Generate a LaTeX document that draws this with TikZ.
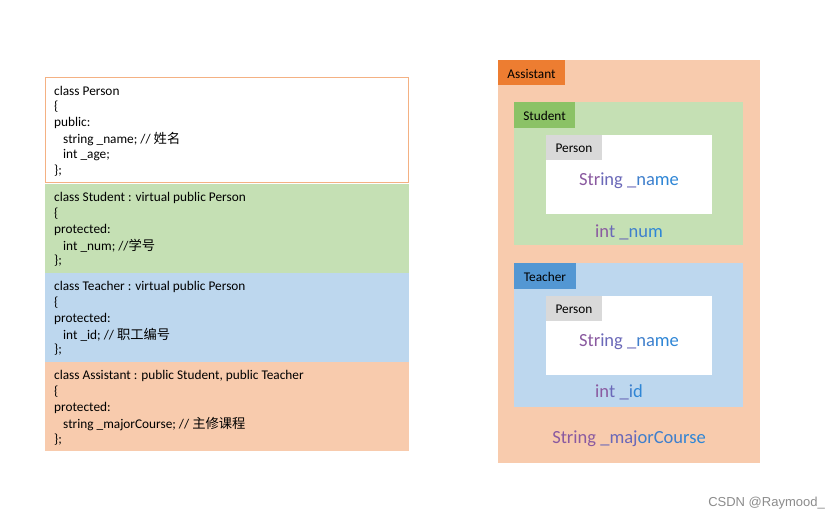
\documentclass[tikz,border=0pt]{standalone}
\usepackage{fontspec}
\setmainfont{Carlito}
\newfontfamily\cjk{Noto Sans CJK SC}
\newfontfamily\wmfont{Liberation Sans}
\definecolor{pOrange}{HTML}{F8CBAD}
\definecolor{pOrangeLine}{HTML}{F4B183}
\definecolor{pGreen}{HTML}{C5E0B4}
\definecolor{pBlue}{HTML}{BDD7EE}
\definecolor{lOrange}{HTML}{ED7D31}
\definecolor{lGreen}{HTML}{8BC266}
\definecolor{lBlue}{HTML}{5397D3}
\definecolor{lGray}{HTML}{D9D9D9}
\definecolor{gA}{HTML}{8A5AA0}
\definecolor{gB}{HTML}{6A68B8}
\definecolor{gC}{HTML}{3F7FCC}
\definecolor{gD}{HTML}{2E86D6}
\tikzset{
  codetxt/.style={anchor=west, inner sep=0pt, yshift=-1pt, font=\fontsize{13.3}{16}\selectfont},
  lbl/.style={inner sep=0pt, yshift=-0.5pt, font=\fontsize{13.3}{16}\selectfont},
  mem/.style={inner sep=0pt, yshift=-1.5pt, font=\fontsize{18.5}{22}\selectfont},
}
\begin{document}
\begin{tikzpicture}[x=1pt,y=-1pt]
\useasboundingbox (0,0) rectangle (839,520);
\fill[white] (0,0) rectangle (839,520);
% left code blocks
\draw[pOrangeLine, fill=white, line width=0.8pt] (45.5,77.5) rectangle (408.5,182.5);
\fill[pGreen] (45,184) rectangle (409,273);
\fill[pBlue] (45,273) rectangle (409,362);
\fill[pOrange] (45,362) rectangle (409,451);
% Person code
\node[codetxt] (p1) at (54,90) {class Person};
\node[codetxt] (p2) at (54,106) {\{};
\node[codetxt] (p3) at (54,122) {public:};
\node[codetxt] (p4) at (63,138) {string \_name; // {\cjk 姓名}};
\node[codetxt] (p5) at (63,154) {int \_age;};
\node[codetxt] (p6) at (54,170) {\};};
% Student code
\node[codetxt] (s1) at (54,197) {class Student : virtual public Person};
\node[codetxt] (s2) at (54,213) {\{};
\node[codetxt] (s3) at (54,229) {protected:};
\node[codetxt] (s4) at (63,245) {int \_num; //{\cjk 学号}};
\node[codetxt] (s5) at (54,260) {\};};
% Teacher code
\node[codetxt] (t1) at (54,286) {class Teacher : virtual public Person};
\node[codetxt] (t2) at (54,302) {\{};
\node[codetxt] (t3) at (54,318) {protected:};
\node[codetxt] (t4) at (63,334) {int \_id; // {\cjk 职工编号}};
\node[codetxt] (t5) at (54,349) {\};};
% Assistant code
\node[codetxt] (a1) at (54,375) {class Assistant : public Student, public Teacher};
\node[codetxt] (a2) at (54,391) {\{};
\node[codetxt] (a3) at (54,407) {protected:};
\node[codetxt] (a4) at (63,423) {string \_majorCourse; // {\cjk 主修课程}};
\node[codetxt] (a5) at (54,439) {\};};
% right diagram
\fill[pOrange] (498,60) rectangle (760,463);
\fill[lOrange] (498,60) rectangle (565,85);
\node[lbl] (la) at (531.5,73) {Assistant};
% Student
\fill[pGreen] (514,102) rectangle (743,245);
\fill[lGreen] (514,102) rectangle (575,128);
\node[lbl] (ls) at (544.5,115) {Student};
\fill[white] (546,135) rectangle (712,214);
\fill[lGray] (546,135) rectangle (602,160);
\node[lbl] (lp1) at (574,148) {Person};
\node[mem] (n1) at (629,179) {{\color{gA}Str}{\color{gB}ing \_}{\color{gC}na}{\color{gD}me}};
\node[mem] (num) at (629,231) {{\color{gA}in}{\color{gB}t \_}{\color{gC}nu}{\color{gD}m}};
% Teacher
\fill[pBlue] (514,263) rectangle (743,407);
\fill[lBlue] (514,263) rectangle (576,289);
\node[lbl] (lt) at (545,276) {Teacher};
\fill[white] (546,296) rectangle (712,375);
\fill[lGray] (546,296) rectangle (602,321);
\node[lbl] (lp2) at (574,309) {Person};
\node[mem] (n2) at (629,340) {{\color{gA}Str}{\color{gB}ing \_}{\color{gC}na}{\color{gD}me}};
\node[mem] (id) at (619,391) {{\color{gA}in}{\color{gB}t \_}{\color{gC}i}{\color{gD}d}};
\node[mem] (mc) at (629,437) {{\color{gA}String }{\color{gB}\_maj}{\color{gC}orCou}{\color{gD}rse}};
% watermark
\node[inner sep=0pt, anchor=east, text=black!45, font=\wmfont\fontsize{13}{15}\selectfont] (wm) at (825,503) {CSDN @Raymood\_};
\end{tikzpicture}
\end{document}
